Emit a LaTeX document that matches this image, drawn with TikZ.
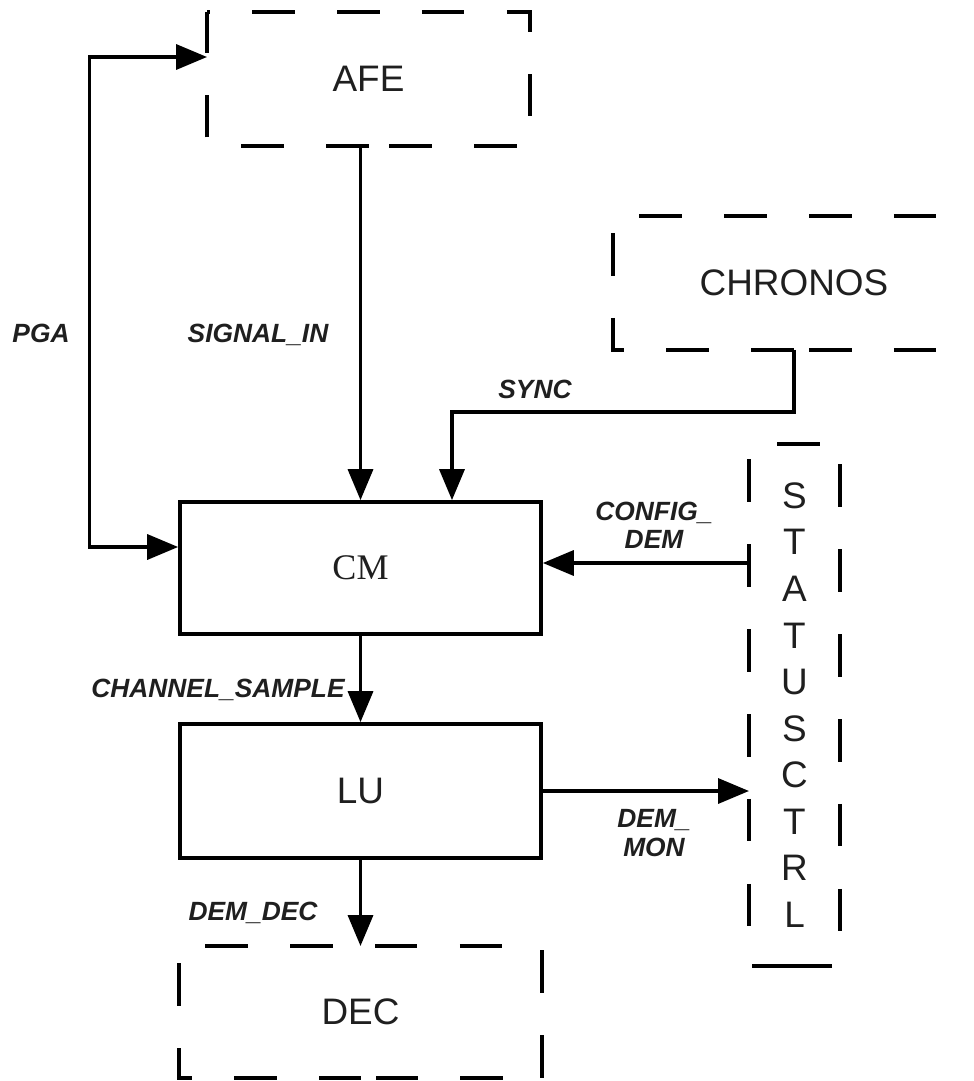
\documentclass[tikz,border=0pt]{standalone}
\usepackage{fontspec}
\setmainfont{Liberation Sans}
\newfontfamily\serifcm{Liberation Serif}
\usetikzlibrary{arrows.meta}
\begin{document}
\begin{tikzpicture}[x=0.02cm,y=-0.02cm,
  box/.style={draw, line width=0.075cm, inner sep=0pt},
  dbox/.style={inner sep=0pt, outer sep=0pt},
  dside/.style={line width=0.07cm, dash pattern=on 0.85cm off 0.85cm},
  conn/.style={line width=0.07cm, -{Triangle[length=0.62cm,width=0.5cm]}},
  bidir/.style={line width=0.07cm, {Triangle[length=0.62cm,width=0.5cm]}-{Triangle[length=0.62cm,width=0.5cm]}},
  big/.style={font=\fontsize{21}{25}\selectfont, text=black!88},
  lab/.style={font=\fontsize{15}{16}\selectfont\bfseries\itshape, text=black!88, align=center, inner sep=0pt}
]
\useasboundingbox (0,0) rectangle (973,1081);

% blocks
\node[dbox, big, minimum width=6.46cm, minimum height=2.68cm] (afe) at (368.5,79) {AFE};
\node[dbox, big, minimum width=7.24cm, minimum height=2.68cm] (chr) at (794,283) {CHRONOS};
\node[box, minimum width=7.22cm, minimum height=2.64cm, font=\serifcm\fontsize{20.5}{24}\selectfont, text=black!88] (cm) at (360.5,568) {CM};
\node[box, big, minimum width=7.22cm, minimum height=2.68cm] (lu) at (360.5,791) {LU};
\node[dbox, big, minimum width=7.26cm, minimum height=2.64cm] (dec) at (360.5,1012) {DEC};
\node[dbox, minimum width=1.82cm, minimum height=10.44cm, align=center,
      font=\fontsize{21}{26.5}\selectfont, text=black!88] (st) at (794.5,705)
      {S\\T\\A\\T\\U\\S\\C\\T\\R\\L};

% dashed borders
\draw[dside, dash phase=0.8cm] (afe.north west) -- (afe.north east) -- (afe.south east) -- (afe.south);
\draw[dside, dash phase=0cm] (afe.south) -- (afe.south west) -- (afe.north west);

\draw[dside, dash phase=1.18cm] (chr.north west) -- (chr.north east);
\draw[dside, dash phase=1.36cm] (chr.north west) -- (chr.south west) -- (chr.south);
\draw[dside, dash phase=1.4cm] (chr.south) -- (chr.south east);

\draw[dside, dash phase=1.14cm] (st.north west) -- (st.north east);
\draw[dside, dash phase=1.4cm] (st.north west) -- (st.south west);
\draw[dside, dash phase=1.3cm] (st.north east) -- (st.south east);
\draw[dside, dash phase=1.64cm] (st.south west) -- (st.south);
\draw[dside, dash phase=1.54cm] (st.south east) -- (st.south);

\draw[dside, dash phase=1.18cm] (dec.north west) -- (dec.north east);
\draw[dside, dash phase=1.62cm] (dec.north east) -- (dec.south east);
\draw[dside, dash phase=1.36cm] (dec.north west) -- (dec.south west) -- (dec.south);
\draw[dside, dash phase=0.92cm] (dec.south east) -- (dec.south);

% connectors
\draw[conn] (afe.south -| cm.north) -- (cm.north);
\draw[conn] (chr.south) -- ++(0,62) -| ([xshift=1.83cm]cm.north);
\draw[bidir] ([yshift=0.42cm]cm.west) -- ++(-88.5,0) |- ([yshift=0.44cm]afe.west);
\coordinate (cfg) at ([yshift=0.1cm]cm.east);
\draw[conn] (cfg -| st.west) -- (cfg);
\draw[conn] (cm.south) -- (lu.north);
\draw[conn] (lu.east) -- (lu.east -| st.west);
\draw[conn] (lu.south) -- (dec.north);

% labels
\node[lab, text depth=0pt] (lpga) at (41,333) {PGA};
\node[lab, text depth=0pt] (lsig) at (258,333) {SIGNAL\_IN};
\node[lab, text depth=0pt] (lsync) at (535,389) {SYNC};
\node[lab] (lcfg) at (654,525) {CONFIG\_\\DEM};
\node[lab, text depth=0pt] (lch) at (218,688) {CHANNEL\_SAMPLE};
\node[lab] (lmon) at (654,833) {DEM\_\\MON};
\node[lab, text depth=0pt] (ldec) at (253,911) {DEM\_DEC};
\end{tikzpicture}
\end{document}
